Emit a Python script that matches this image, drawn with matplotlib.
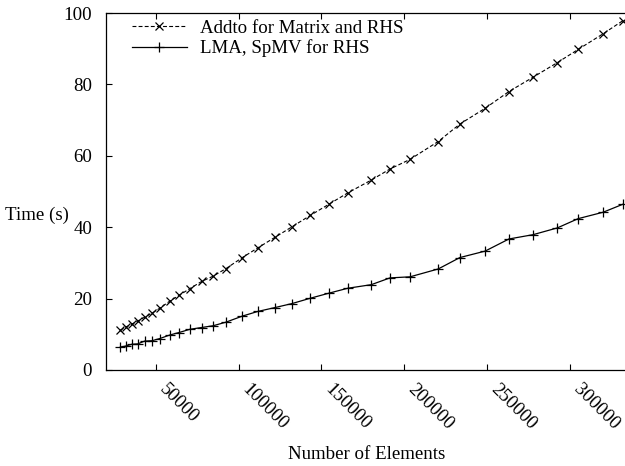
import matplotlib
matplotlib.use("Agg")
import matplotlib.pyplot as plt

# Number of elements for each run
elements = [28600, 31800, 35450, 39100, 43300, 47750, 52400, 58500, 64100,
            70600, 77700, 84700, 92400, 102300, 111600, 122100, 132200,
            143300, 154400, 165900, 180100, 191400, 203500, 220500, 233600,
            248800, 263200, 277700, 292400, 305000, 320100, 331800]

# Time (s): Addto for Matrix and RHS
addto_time = [11.1, 12.0, 12.8, 13.7, 14.8, 15.9, 17.3, 19.3, 20.9, 22.8,
              24.8, 26.3, 28.4, 31.5, 34.2, 37.2, 40.1, 43.3, 46.4, 49.6,
              53.2, 56.3, 59.0, 64.0, 68.9, 73.3, 78.0, 82.0, 86.1, 89.8,
              94.2, 97.8]

# Time (s): LMA, SpMV for RHS
lma_time = [6.4, 6.7, 7.2, 7.3, 8.1, 8.2, 8.8, 9.8, 10.5, 11.4, 11.9, 12.4,
            13.4, 15.1, 16.4, 17.5, 18.6, 20.1, 21.5, 22.9, 23.9, 25.8, 26.1,
            28.3, 31.5, 33.3, 36.7, 37.9, 39.8, 42.4, 44.2, 46.4]

labels = ["Addto for Matrix and RHS", "LMA, SpMV for RHS"]
x_ticks = [50000, 100000, 150000, 200000, 250000, 300000]
y_ticks = [0, 20, 40, 60, 80, 100]

plt.rcParams["font.family"] = ["Liberation Serif", "DejaVu Serif"]
plt.rcParams["font.size"] = 13.6

fig = plt.figure(figsize=(6.25, 4.66), dpi=100)
ax = fig.add_axes([106 / 625, 96 / 466, 1 - 106 / 625 + 0.002, 357 / 466])

ax.plot(elements, addto_time, color="black", lw=0.8, ls=(0, (3.5, 2)),
        marker="x", ms=6, mew=0.9, label=labels[0])
ax.plot(elements, lma_time, color="black", lw=0.9, ls="-",
        marker="+", ms=7, mew=0.9, label=labels[1])

ax.set_xlim(20000, 334000)
ax.set_ylim(0, 100)
ax.set_xticks(x_ticks)
ax.set_xticklabels([str(t) for t in x_ticks], rotation=-45,
                   ha="left", va="top", rotation_mode="default")
ax.set_yticks(y_ticks)
ax.tick_params(axis="both", direction="in", length=4.5, width=0.8,
               top=True, right=False)
ax.tick_params(axis="x", pad=8)
ax.tick_params(axis="y", pad=10)
for side in ("left", "bottom", "top"):
    ax.spines[side].set_linewidth(0.9)
ax.spines["right"].set_visible(False)

ax.set_xlabel("Number of Elements", labelpad=9)
ax.set_ylabel("Time (s)", rotation=0, ha="center", va="center")
ax.yaxis.set_label_coords(-69 / 519, (370 - 215) / 357)

ax.legend(loc="upper left", bbox_to_anchor=((132 - 106) / 519, 0.981),
          frameon=False, borderpad=0, borderaxespad=0,
          handlelength=2.9, handletextpad=0.7, labelspacing=0.12)

fig.savefig("out.png", dpi=100)
